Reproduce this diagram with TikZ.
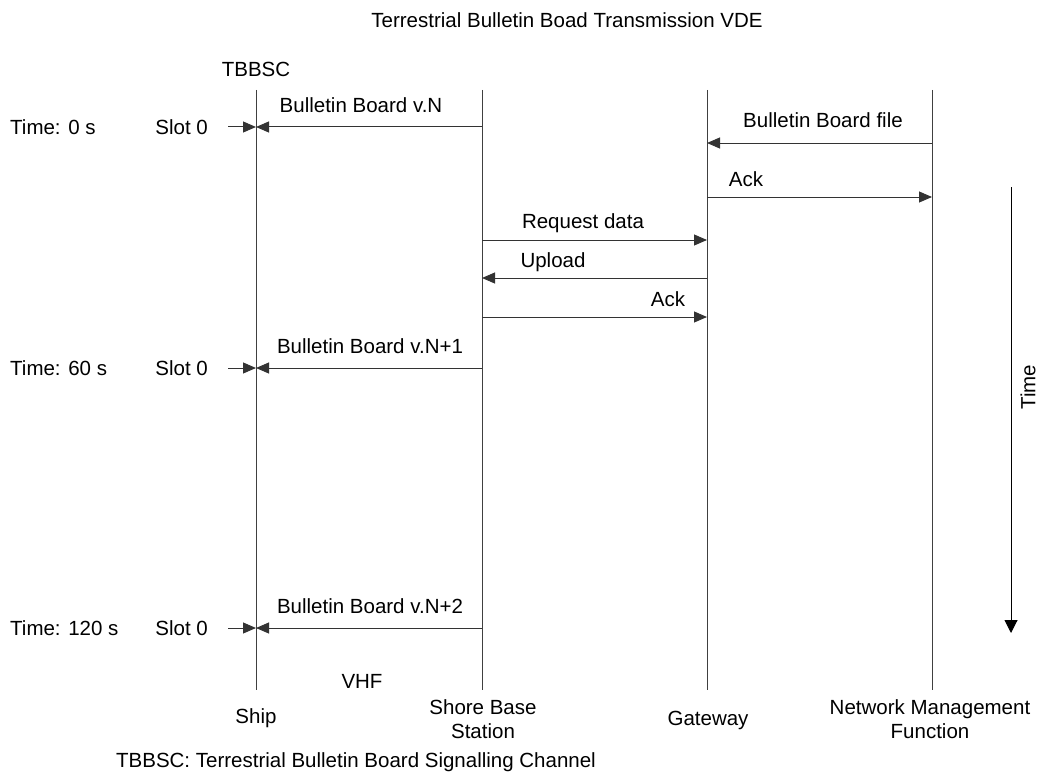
\documentclass[tikz,border=0pt]{standalone}
\usepackage{fontspec}
\setmainfont{Liberation Sans}
\usetikzlibrary{arrows.meta}
\begin{document}
\begin{tikzpicture}[x=1pt,y=-1pt,
  every node/.style={font=\fontsize{20.5}{23.5}\selectfont, inner sep=0pt},
  life/.style={line width=1pt, black!75},
  msg/.style={line width=1pt, black!80, -{Triangle[length=13pt,width=11pt]}},
  lbl/.style={anchor=base}]
\useasboundingbox (0,0) rectangle (1038,773);

% lifeline ends
\coordinate (shipT) at (256,90);   \coordinate (shipB) at (256,690);
\coordinate (sbsT)  at (482,90);   \coordinate (sbsB)  at (482,690);
\coordinate (gwT)   at (707,90);   \coordinate (gwB)   at (707,690);
\coordinate (nmfT)  at (932,90);   \coordinate (nmfB)  at (932,690);
\draw[life] (shipT) -- (shipB);
\draw[life] (sbsT) -- (sbsB);
\draw[life] (gwT) -- (gwB);
\draw[life] (nmfT) -- (nmfB);

% titles
\node (title) at (567,20) {Terrestrial Bulletin Boad Transmission VDE};
\node (tbbsc) at (256,69) {TBBSC};
\node (ship) at (256,718) {Ship};
\node[align=center] (sbs) at (483,719) {Shore Base\\Station};
\node (gw) at (708,720) {Gateway};
\node[align=center] (nmf) at (930,719) {Network Management\\Function};
\node (vhf) at (362,681) {VHF};
\node (note) at (356,762) {TBBSC: Terrestrial Bulletin Board Signalling Channel};

% message points on lifelines
\foreach \n/\y in {a/127,b/143,c/197,d/240,e/278,f/317,g/368,h/628}{
  \coordinate (ship\n) at (256,\y);
  \coordinate (sbs\n) at (482,\y);
  \coordinate (gw\n) at (707,\y);
  \coordinate (nmf\n) at (932,\y);
}

% messages
\draw[msg] (sbsa) -- (shipa);
\node (m1) at (361,105) {Bulletin Board v.N};
\draw[msg] (nmfb) -- (gwb);
\node (m2) at (823,120) {Bulletin Board file};
\draw[msg] (gwc) -- (nmfc);
\node (m3) at (746,179) {Ack};
\draw[msg] (sbsd) -- (gwd);
\node (m4) at (583,223) {Request data};
\draw[msg] (gwe) -- (sbse);
\node (m5) at (553,262) {Upload};
\draw[msg] (sbsf) -- (gwf);
\node (m6) at (668,299) {Ack};
\draw[msg] (sbsg) -- (shipg);
\node (m7) at (370,346) {Bulletin Board v.N+1};
\draw[msg] (sbsh) -- (shiph);
\node (m8) at (370,606) {Bulletin Board v.N+2};

% slot markers
\foreach \n/\t in {a/0 s,g/60 s,h/120 s}{
  \coordinate (slot\n) at (228,0 |- ship\n);
  \draw[msg] (slot\n) -- (ship\n);
  \node[anchor=east] (slotl\n) at (208,0 |- ship\n) {Slot 0};
  \node[anchor=west] (time\n) at (10,0 |- ship\n) {Time: \t};
}

% time axis
\coordinate (tTop) at (1011,187);
\coordinate (tBot) at (1011,633);
\draw[line width=1pt, -{Triangle[length=13pt,width=13pt]}] (tTop) -- (tBot);
\node[rotate=90] (time) at (1028,387) {Time};
\end{tikzpicture}
\end{document}
